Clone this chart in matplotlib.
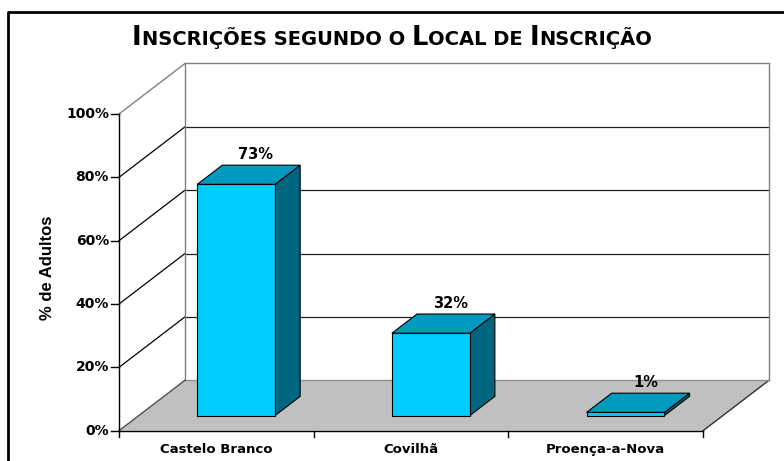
import matplotlib
matplotlib.use('Agg')
import matplotlib.pyplot as plt
from matplotlib.patches import Polygon

# data
categories = ['Castelo Branco', 'Covilhã', 'Proença-a-Nova']
bar_values = [73, 26, 1]          # heights as drawn
bar_labels = ['73%', '32%', '1%']  # labels as printed
y_ticks = [0, 20, 40, 60, 80, 100]
y_ticklabels = ['0%', '20%', '40%', '60%', '80%', '100%']

# projection of the pseudo-3D plot area (pixel space)
X0, Y0 = 119.0, 430.7      # front-left corner of floor
CAT_W = 194.7              # width of one category
PER_PCT = 3.167            # pixels per percent
DX, DY = 66.0, -50.5       # full depth offset
D_FRONT, D_BACK = 0.30, 0.68
BAR_L, BAR_R = 0.30, 0.70


def proj(x, v, d):
    return (X0 + x * CAT_W + d * DX, Y0 - v * PER_PCT + d * DY)


fig = plt.figure(figsize=(7.84, 4.61), dpi=100)
ax = fig.add_axes([0, 0, 1, 1])
ax.set_xlim(0, 784)
ax.set_ylim(461, 0)
ax.axis('off')

n = len(categories)
top = y_ticks[-1]

# floor
ax.add_patch(Polygon([proj(0, 0, 0), proj(n, 0, 0), proj(n, 0, 1), proj(0, 0, 1)],
                     closed=True, fc='#c0c0c0', ec='none', zorder=1))
ax.plot(*zip(proj(n, 0, 0), proj(n, 0, 1)), color='#303030', lw=1, zorder=2)

# back wall gridlines and edges
for t in y_ticks[1:-1]:
    ax.plot(*zip(proj(0, t, 1), proj(n, t, 1)), color='#202020', lw=0.9, zorder=2)
    ax.plot(*zip(proj(0, t, 0), proj(0, t, 1)), color='black', lw=0.9, zorder=2)
ax.plot(*zip(proj(0, 0, 1), proj(n, 0, 1)), color='#909090', lw=1, zorder=2)
ax.plot(*zip(proj(0, top, 1), proj(n, top, 1)), color='#808080', lw=1, zorder=2)
ax.plot(*zip(proj(0, 0, 1), proj(0, top, 1)), color='#808080', lw=1, zorder=2)
ax.plot(*zip(proj(n, 0, 1), proj(n, top, 1)), color='#808080', lw=1, zorder=2)
ax.plot(*zip(proj(0, top, 0), proj(0, top, 1)), color='#808080', lw=1, zorder=2)
ax.plot(*zip(proj(0, 0, 0), proj(0, 0, 1)), color='#505050', lw=1, zorder=2)

# axes lines
ax.plot(*zip(proj(0, 0, 0), proj(0, top, 0)), color='black', lw=1, zorder=5)
ax.plot(*zip(proj(0, 0, 0), proj(n, 0, 0)), color='black', lw=1, zorder=5)
for t, lab in zip(y_ticks, y_ticklabels):
    x, y = proj(0, t, 0)
    ax.plot([x - 8, x], [y, y], color='black', lw=1, zorder=5)
    ax.text(x - 10, y, lab, ha='right', va='center', fontsize=10,
            fontweight='bold', family='DejaVu Sans')
for i in range(n + 1):
    x, y = proj(i, 0, 0)
    ax.plot([x, x], [y, y + 6], color='black', lw=1, zorder=5)
for i, c in enumerate(categories):
    x, y = proj(i + 0.5, 0, 0)
    ax.text(x, y + 19, c, ha='center', va='center', fontsize=9.5,
            fontweight='bold', family='DejaVu Sans')

# bars
for i, (v, lab) in enumerate(zip(bar_values, bar_labels)):
    x0, x1 = i + BAR_L, i + BAR_R
    front = [proj(x0, 0, D_FRONT), proj(x1, 0, D_FRONT), proj(x1, v, D_FRONT), proj(x0, v, D_FRONT)]
    topf = [proj(x0, v, D_FRONT), proj(x1, v, D_FRONT), proj(x1, v, D_BACK), proj(x0, v, D_BACK)]
    side = [proj(x1, 0, D_FRONT), proj(x1, v, D_FRONT), proj(x1, v, D_BACK), proj(x1, 0, D_BACK)]
    ax.add_patch(Polygon(side, closed=True, fc='#006680', ec='black', lw=0.8, zorder=6))
    ax.add_patch(Polygon(topf, closed=True, fc='#0099bf', ec='black', lw=0.8, zorder=6))
    ax.add_patch(Polygon(front, closed=True, fc='#00ccff', ec='black', lw=0.8, zorder=7))
    lx, ly = proj(i + 0.5, v, 0.6)
    ax.text(lx, ly - 15, lab, ha='center', va='center', fontsize=10.5,
            fontweight='bold', family='DejaVu Sans', zorder=8)

# y axis title
ax.text(48, 268, '% de Adultos', rotation=90, ha='center', va='center',
        fontsize=12, fontweight='bold', family='Liberation Sans')

# outer frame (cut off at right and bottom)
ax.plot([8.5, 8.5, 784], [461, 12, 12], color='black', lw=2, zorder=10)

# title in small caps
runs = [('I', 18.5), ('NSCRIÇÕES SEGUNDO O ', 14), ('L', 18.5), ('OCAL DE ', 14),
        ('I', 18.5), ('NSCRIÇÃO', 14)]
renderer = fig.canvas.get_renderer()
texts = []
for s, size in runs:
    t = fig.text(0, 0, s, fontsize=size, fontweight='bold', family='DejaVu Sans',
                 ha='left', va='baseline', transform=None)
    texts.append(t)
widths = [t.get_window_extent(renderer).width for t in texts]
total = sum(widths)
x = 392 - total / 2
base = 461 - 45
for t, w in zip(texts, widths):
    t.set_position((x, base))
    x += w

fig.savefig('out.png', dpi=100)
